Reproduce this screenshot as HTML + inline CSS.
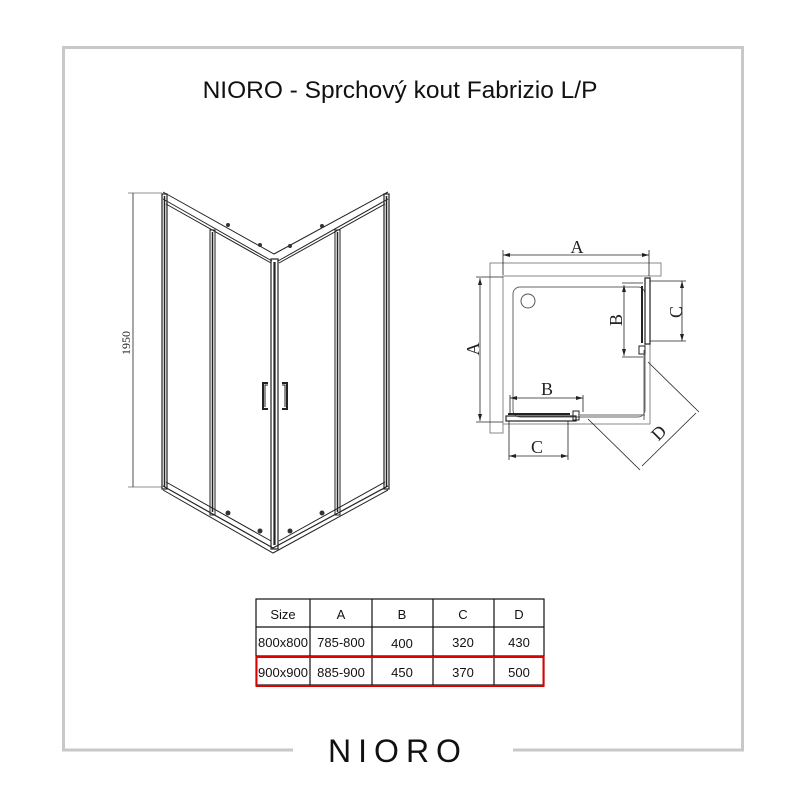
<!DOCTYPE html>
<html><head><meta charset="utf-8"><style>
html,body{margin:0;padding:0;background:#fff;}
svg{display:block;}
.s{font-family:"Liberation Sans",sans-serif;}
.r{font-family:"Liberation Serif",serif;}
</style></head><body>
<svg width="800" height="800" viewBox="0 0 800 800" xmlns="http://www.w3.org/2000/svg">
<g stroke="#c8c8c8" stroke-width="3" fill="none">
<path d="M293 750 H63.5 V47.5 H742.5 V750 H513"/>
</g>
<text class="s" x="400" y="98" font-size="24.5" text-anchor="middle" fill="#111">NIORO - Sprchový kout Fabrizio L/P</text>
<text class="s" x="398" y="762" font-size="32" text-anchor="middle" fill="#111" letter-spacing="7" font-weight="normal">NIORO</text>

<g stroke="#222" fill="none" stroke-width="1">
<line x1="133" y1="193" x2="133" y2="487" stroke-width="0.8"/>
<line x1="128" y1="193" x2="162" y2="193" stroke-width="0.6"/>
<line x1="128" y1="487" x2="162" y2="487" stroke-width="0.6"/>
<rect x="162" y="194" width="5" height="295" stroke-width="1.2"/>
<line x1="164.5" y1="196" x2="164.5" y2="487" stroke-width="1.5"/>
<rect x="210" y="230" width="5" height="285"/>
<line x1="212.5" y1="232" x2="212.5" y2="512" stroke-width="1.5"/>
<rect x="271" y="259" width="7" height="290" stroke-width="1.2"/>
<line x1="274.5" y1="262" x2="274.5" y2="545" stroke-width="2.2"/>
<rect x="335" y="230" width="5" height="285"/>
<line x1="337.5" y1="232" x2="337.5" y2="512" stroke-width="1.5"/>
<rect x="384" y="194" width="5" height="295" stroke-width="1.2"/>
<line x1="386.5" y1="196" x2="386.5" y2="487" stroke-width="1.5"/>
<path d="M163 192 L274 254 L388 192"/>
<path d="M163 199 L272 261"/>
<path d="M166 204 L271 263"/>
<path d="M388 199 L278 261"/>
<path d="M385 204 L279 263"/>
<path d="M163 486 L273 548 L388 486" stroke-width="1.2"/>
<path d="M166 482 L271 541"/>
<path d="M385 482 L279 541"/>
<path d="M163 490 L273 553 L388 490"/>
<path d="M268 383 h-5 v26 h5" stroke-width="2"/>
<path d="M268 385 h-3 v22" stroke-width="1"/>
<path d="M282 383 h5 v26 h-5" stroke-width="2"/>
<path d="M282 385 h3 v22" stroke-width="1"/>
</g>
<g fill="#333">
<circle cx="228" cy="225" r="2"/><circle cx="260" cy="245" r="2"/>
<circle cx="290" cy="246" r="2"/><circle cx="322" cy="226" r="2"/>
<circle cx="228" cy="513" r="2.5"/><circle cx="260" cy="531" r="2.5"/>
<circle cx="290" cy="531" r="2.5"/><circle cx="322" cy="513" r="2.5"/>
</g>
<text class="r" font-size="12" fill="#222" transform="translate(130,355) rotate(-90)">1950</text>

<g fill="none" stroke="#444" stroke-width="1">
<path d="M490 263 H661 V276 H503 V433 H490 Z" stroke="#888"/>
<path d="M503 276 V424 H650 V277" stroke="#888"/>
<rect x="513" y="287" width="132" height="130" rx="7" stroke="#666"/>
<circle cx="528" cy="301" r="7" stroke="#555"/>
<rect x="645" y="278" width="5" height="66" stroke="#222" stroke-width="1.2"/>
<line x1="642" y1="286" x2="642" y2="343" stroke="#222" stroke-width="2"/>
<rect x="639" y="346" width="6" height="8" stroke="#222"/>
<line x1="644" y1="350" x2="644" y2="420" stroke="#666"/>
<rect x="506" y="416" width="70" height="5" stroke="#222" stroke-width="1.2"/>
<line x1="508" y1="414" x2="570" y2="414" stroke="#222" stroke-width="2"/>
<rect x="573" y="411" width="6" height="9" stroke="#222"/>
<line x1="580" y1="415" x2="645" y2="415" stroke="#666"/>
<g stroke="#222" stroke-width="0.8">
<line x1="503" y1="255" x2="649" y2="255"/>
<line x1="503" y1="250" x2="503" y2="275"/><line x1="649" y1="250" x2="649" y2="276"/>
<line x1="480" y1="278" x2="480" y2="421"/>
<line x1="476" y1="277" x2="503" y2="277"/><line x1="476" y1="422" x2="503" y2="422"/>
<line x1="624" y1="285" x2="624" y2="356"/>
<line x1="622" y1="283" x2="643" y2="283"/><line x1="622" y1="357" x2="643" y2="357"/>
<line x1="682" y1="281" x2="682" y2="341"/>
<line x1="650" y1="281" x2="686" y2="281"/><line x1="650" y1="341" x2="686" y2="341"/>
<line x1="510" y1="398" x2="583" y2="398"/>
<line x1="510" y1="395" x2="510" y2="415"/><line x1="583" y1="395" x2="583" y2="412"/>
<line x1="509" y1="456" x2="568" y2="456"/>
<line x1="509" y1="421" x2="509" y2="460"/><line x1="568" y1="421" x2="568" y2="460"/>
<line x1="648" y1="362" x2="699" y2="412"/>
<line x1="588" y1="419" x2="640" y2="470"/>
<line x1="642" y1="466" x2="696" y2="413"/>
</g>
</g>
<g fill="#222" font-size="18" class="r">
<text class="r" x="577" y="253" text-anchor="middle">A</text>
<text class="r" transform="translate(479,349) rotate(-90)" text-anchor="middle">A</text>
<text class="r" transform="translate(622,320) rotate(-90)" text-anchor="middle">B</text>
<text class="r" transform="translate(682,312) rotate(-90)" text-anchor="middle">C</text>
<text class="r" x="547" y="395" text-anchor="middle">B</text>
<text class="r" x="537" y="453" text-anchor="middle">C</text>
<text class="r" transform="translate(663,437) rotate(-45)" text-anchor="middle">D</text>
</g>
<g fill="#222">
<path d="M503 255 l7 -2 v4z"/><path d="M649 255 l-7 -2 v4z"/>
<path d="M480 278 l-2 7 h4z"/><path d="M480 421 l-2 -7 h4z"/>
<path d="M624 285 l-2 7 h4z"/><path d="M624 356 l-2 -7 h4z"/>
<path d="M682 281 l-2 7 h4z"/><path d="M682 341 l-2 -7 h4z"/>
<path d="M510 398 l7 -2 v4z"/><path d="M583 398 l-7 -2 v4z"/>
<path d="M509 456 l7 -2 v4z"/><path d="M568 456 l-7 -2 v4z"/>
</g>

<g stroke="#111" stroke-width="1.2" fill="none">
<rect x="256" y="599" width="288" height="86"/>
<line x1="256" y1="627" x2="544" y2="627"/>
<line x1="256" y1="656" x2="544" y2="656"/>
<line x1="310" y1="599" x2="310" y2="685"/>
<line x1="372" y1="599" x2="372" y2="685"/>
<line x1="433" y1="599" x2="433" y2="685"/>
<line x1="494" y1="599" x2="494" y2="685"/>
</g>
<rect x="256.5" y="657" width="287" height="29" fill="none" stroke="#e00000" stroke-width="2"/>
<g font-size="13" fill="#111" text-anchor="middle" class="s">
<text class="s" x="283" y="619">Size</text><text class="s" x="341" y="619">A</text><text class="s" x="402" y="619">B</text><text class="s" x="463" y="619">C</text><text class="s" x="519" y="619">D</text>
<text class="s" x="283" y="647">800x800</text><text class="s" x="341" y="647">785-800</text><text class="s" x="402" y="648">400</text><text class="s" x="463" y="647">320</text><text class="s" x="519" y="647">430</text>
<text class="s" x="283" y="677">900x900</text><text class="s" x="341" y="677">885-900</text><text class="s" x="402" y="677">450</text><text class="s" x="463" y="677">370</text><text class="s" x="519" y="677">500</text>
</g>
</svg>
</body></html>
